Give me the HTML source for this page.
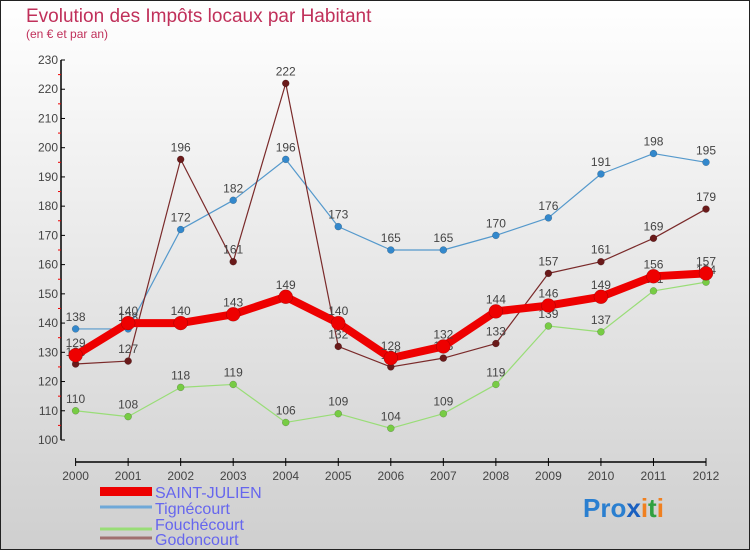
<!DOCTYPE html>
<html><head><meta charset="utf-8"><style>
body{margin:0}
svg{display:block;font-family:"Liberation Sans",sans-serif}
</style></head><body>
<svg id="c" width="750" height="550" viewBox="0 0 750 550">
<defs><linearGradient id="bg" x1="0" y1="0" x2="0" y2="1"><stop offset="0" stop-color="#ffffff"/><stop offset="1" stop-color="#cfcfcf"/></linearGradient></defs>
<rect x="0.5" y="0.5" width="749" height="549" fill="url(#bg)" stroke="#222"/>
<text x="26" y="22" font-size="19" fill="#c0305a">Evolution des Impôts locaux par Habitant</text>
<text x="26" y="38" font-size="12" fill="#c0305a">(en € et par an)</text>
<g id="axes"></g>
<g id="series"></g>
<g font-size="16" fill="#6666ee">
<rect x="100" y="487" width="52" height="9" fill="#ee0000"/>
<text x="155" y="498" fill="#6666ee">SAINT-JULIEN</text>
<line x1="100" y1="507" x2="152" y2="507" stroke="#6fa8d8" stroke-width="3"/>
<text x="155" y="514" fill="#6666ee">Tignécourt</text>
<line x1="100" y1="529" x2="152" y2="529" stroke="#99dd77" stroke-width="3"/>
<text x="155" y="530" fill="#6666ee">Fouchécourt</text>
<line x1="100" y1="549" x2="152" y2="549" stroke="#a07070" stroke-width="3" transform="translate(0,-11)"/>
<text x="155" y="545" fill="#6666ee">Godoncourt</text>
</g>
<text x="583" y="517" font-size="26" font-weight="bold"><tspan fill="#2a7fd0">Pro</tspan><tspan fill="#1a60c0">x</tspan><tspan fill="#f08020">i</tspan><tspan fill="#30a040">t</tspan><tspan fill="#f08020">i</tspan></text>
</svg>
<script>
const years=[2000,2001,2002,2003,2004,2005,2006,2007,2008,2009,2010,2011,2012];
const yTicks=[100,110,120,130,140,150,160,170,180,190,200,210,220,230];
const saintJulien=[129,140,140,143,149,140,128,132,144,146,149,156,157];
const tignecourt=[138,138,172,182,196,173,165,165,170,176,191,198,195];
const fouchecourt=[110,108,118,119,106,109,104,109,119,139,137,151,154];
const godoncourt=[126,127,196,161,222,132,125,128,133,157,161,169,179];
const NS="http://www.w3.org/2000/svg";
function X(i){return 75.6+i*(706-75.6)/(years.length-1);}
function Y(v){return 440-(v-100)*(380/130);}
function mk(t,a,p){const e=document.createElementNS(NS,t);for(const k in a)e.setAttribute(k,a[k]);p.appendChild(e);return e;}
const ax=document.getElementById('axes');
const ya=mk('line',{x1:61,y1:Y(230),x2:61,y2:Y(100),stroke:'#000','stroke-width':1.5},ax);


yTicks.forEach(v=>{
 mk('line',{x1:61,y1:Y(v),x2:65,y2:Y(v),stroke:'#000'},ax);
 if(v<230){mk('line',{x1:58,y1:Y(v+5),x2:61,y2:Y(v+5),stroke:'#e00'},ax);}
 const t=mk('text',{x:58,y:Y(v)+4,'text-anchor':'end','font-size':12,fill:'#444'},ax);
 t.textContent=v;
 
 
});
const xa=mk('line',{x1:75.6,y1:462,x2:706,y2:462,stroke:'#000','stroke-width':1.5},ax);


years.forEach((y,i)=>{
 mk('line',{x1:X(i),y1:458,x2:X(i),y2:466,stroke:'#000'},ax);
 const t=mk('text',{x:X(i),y:480,'text-anchor':'middle','font-size':12,fill:'#444'},ax);
 t.textContent=y;
 
 
});
const sg=document.getElementById('series');
function series(data,name,color,dot,w,r){
 const g=mk('g',{},sg);
 
 
 const pl=mk('polyline',{points:data.map((v,i)=>X(i)+','+Y(v)).join(' '),fill:'none',stroke:color,'stroke-width':w,'stroke-linejoin':'round'},g);
 
 
 data.forEach((v,i)=>{
  const c=mk('circle',{cx:X(i),cy:Y(v),r:r,fill:dot,stroke:'rgba(0,0,0,0.3)','stroke-width':0.5},g);
  
  
  const t=mk('text',{x:X(i),y:Y(v)-8,'text-anchor':'middle','font-size':12,fill:'#444'},g);
  t.textContent=v;
  
  
 });
}
series(tignecourt,'tignecourt','#5599cc','#3388cc',1.2,3.5);
series(fouchecourt,'fouchecourt','#99dd77','#77cc44',1.2,3.5);
series(godoncourt,'godoncourt','#7a2a2a','#6a1a1a',1.2,3.5);
series(saintJulien,'saint-julien','#ee0000','#ee0000',8,7);
</script>
</body></html>
